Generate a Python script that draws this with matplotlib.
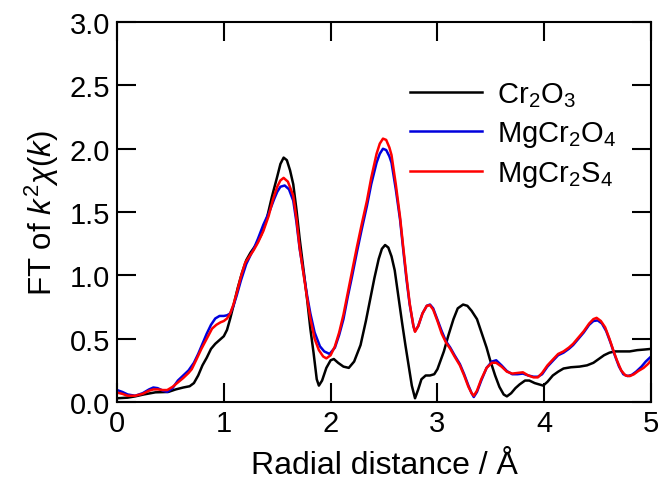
import matplotlib
matplotlib.use("Agg")
import matplotlib.pyplot as plt

plt.rcParams["font.family"] = ["Liberation Sans", "DejaVu Sans"]
plt.rcParams["mathtext.fontset"] = "custom"
plt.rcParams["mathtext.rm"] = "Liberation Sans"
plt.rcParams["mathtext.it"] = "Liberation Sans:italic"

# Cr2O3 (black)
r_cr2o3 = [0.00, 0.10, 0.17, 0.25, 0.36, 0.48, 0.55, 0.62, 0.68, 0.72, 0.76, 0.80,
           0.84, 0.88, 0.92, 0.96, 1.00, 1.03, 1.06, 1.09, 1.13, 1.17, 1.21, 1.25,
           1.30, 1.35, 1.40, 1.45, 1.50, 1.53, 1.56, 1.59, 1.62, 1.65, 1.68, 1.71,
           1.75, 1.78, 1.81, 1.84, 1.87, 1.89, 1.92, 1.96, 2.00, 2.03, 2.07, 2.12,
           2.17, 2.22, 2.28, 2.33, 2.37, 2.41, 2.45, 2.48, 2.51, 2.54, 2.57, 2.60,
           2.63, 2.67, 2.70, 2.73, 2.76, 2.79, 2.82, 2.85, 2.89, 2.93, 2.97, 3.00,
           3.03, 3.06, 3.10, 3.15, 3.19, 3.24, 3.28, 3.32, 3.37, 3.42, 3.46, 3.49,
           3.54, 3.58, 3.62, 3.65, 3.69, 3.73, 3.77, 3.82, 3.86, 3.91, 3.95, 3.99,
           4.03, 4.08, 4.13, 4.18, 4.25, 4.33, 4.40, 4.46, 4.51, 4.56, 4.61, 4.66,
           4.73, 4.80, 4.87, 4.94, 5.00]
ft_cr2o3 = [0.03, 0.035, 0.045, 0.06, 0.077, 0.08, 0.10, 0.115, 0.125, 0.15, 0.21, 0.29,
            0.35, 0.42, 0.46, 0.49, 0.52, 0.57, 0.66, 0.76, 0.90, 1.02, 1.12, 1.18,
            1.24, 1.32, 1.44, 1.62, 1.78, 1.88, 1.93, 1.91, 1.83, 1.72, 1.52, 1.29,
            1.02, 0.81, 0.58, 0.39, 0.18, 0.13, 0.17, 0.27, 0.33, 0.34, 0.31, 0.28,
            0.27, 0.32, 0.45, 0.64, 0.81, 0.98, 1.13, 1.21, 1.24, 1.22, 1.15, 1.04,
            0.86, 0.62, 0.45, 0.29, 0.13, 0.03, 0.10, 0.18, 0.21, 0.21, 0.22, 0.26,
            0.33, 0.40, 0.52, 0.655, 0.74, 0.77, 0.76, 0.72, 0.655, 0.53, 0.43, 0.34,
            0.21, 0.12, 0.06, 0.045, 0.07, 0.11, 0.14, 0.17, 0.17, 0.15, 0.14, 0.13,
            0.16, 0.21, 0.24, 0.265, 0.275, 0.28, 0.29, 0.31, 0.34, 0.37, 0.39, 0.40,
            0.40, 0.40, 0.41, 0.415, 0.42]

# MgCr2O4 (blue)
r_mgcr2o4 = [0.00, 0.05, 0.10, 0.17, 0.24, 0.30, 0.34, 0.38, 0.43, 0.47, 0.52, 0.57,
             0.62, 0.67, 0.72, 0.76, 0.80, 0.84, 0.88, 0.92, 0.96, 1.00, 1.03, 1.06,
             1.09, 1.12, 1.16, 1.21, 1.25, 1.28, 1.32, 1.37, 1.43, 1.47, 1.50, 1.53,
             1.57, 1.61, 1.65, 1.68, 1.71, 1.75, 1.78, 1.81, 1.85, 1.90, 1.94, 1.99,
             2.04, 2.08, 2.12, 2.16, 2.20, 2.245, 2.29, 2.34, 2.38, 2.43, 2.46, 2.49,
             2.52, 2.55, 2.57, 2.61, 2.65, 2.68, 2.71, 2.74, 2.775, 2.79, 2.82, 2.86,
             2.90, 2.93, 2.96, 3.00, 3.04, 3.08, 3.12, 3.16, 3.21, 3.25, 3.29, 3.32,
             3.34, 3.37, 3.41, 3.46, 3.51, 3.55, 3.60, 3.65, 3.70, 3.75, 3.80, 3.85,
             3.90, 3.94, 3.98, 4.03, 4.085, 4.13, 4.18, 4.23, 4.27, 4.32, 4.37, 4.42,
             4.46, 4.50, 4.54, 4.58, 4.62, 4.66, 4.70, 4.74, 4.78, 4.82, 4.86, 4.91,
             4.95, 5.00]
ft_mgcr2o4 = [0.095, 0.08, 0.06, 0.05, 0.07, 0.10, 0.115, 0.11, 0.09, 0.08, 0.11, 0.17,
              0.21, 0.25, 0.31, 0.38, 0.46, 0.54, 0.61, 0.66, 0.68, 0.68, 0.685, 0.70,
              0.76, 0.84, 0.96, 1.09, 1.16, 1.21, 1.29, 1.40, 1.51, 1.60, 1.66, 1.70,
              1.71, 1.68, 1.59, 1.42, 1.21, 1.00, 0.84, 0.70, 0.55, 0.44, 0.40, 0.38,
              0.43, 0.53, 0.655, 0.83, 0.99, 1.18, 1.36, 1.55, 1.72, 1.89, 1.96, 2.00,
              1.99, 1.94, 1.89, 1.68, 1.44, 1.20, 0.97, 0.77, 0.60, 0.56, 0.60, 0.70,
              0.76, 0.77, 0.74, 0.65, 0.56, 0.48, 0.43, 0.37, 0.30, 0.22, 0.13, 0.07,
              0.04, 0.08, 0.17, 0.27, 0.32, 0.33, 0.29, 0.245, 0.22, 0.22, 0.225, 0.21,
              0.20, 0.20, 0.22, 0.28, 0.33, 0.37, 0.39, 0.42, 0.45, 0.50, 0.55, 0.61,
              0.64, 0.645, 0.62, 0.56, 0.47, 0.37, 0.28, 0.22, 0.205, 0.215, 0.24, 0.28,
              0.32, 0.36]

# MgCr2S4 (red)
r_mgcr2s4 = [0.00, 0.05, 0.10, 0.17, 0.24, 0.30, 0.34, 0.38, 0.43, 0.47, 0.52, 0.57,
             0.62, 0.67, 0.70, 0.74, 0.79, 0.84, 0.89, 0.93, 0.97, 1.00, 1.03, 1.06,
             1.09, 1.12, 1.16, 1.20, 1.24, 1.28, 1.32, 1.37, 1.42, 1.46, 1.50, 1.53,
             1.56, 1.60, 1.65, 1.68, 1.71, 1.75, 1.78, 1.81, 1.85, 1.89, 1.93, 1.96,
             2.00, 2.04, 2.08, 2.12, 2.16, 2.20, 2.245, 2.29, 2.34, 2.38, 2.43, 2.46,
             2.49, 2.52, 2.55, 2.57, 2.61, 2.65, 2.68, 2.71, 2.74, 2.775, 2.79, 2.82,
             2.86, 2.90, 2.93, 2.96, 3.00, 3.04, 3.08, 3.12, 3.16, 3.21, 3.25, 3.29,
             3.32, 3.34, 3.37, 3.41, 3.46, 3.51, 3.55, 3.60, 3.65, 3.70, 3.75, 3.80,
             3.85, 3.90, 3.94, 3.98, 4.03, 4.085, 4.13, 4.18, 4.23, 4.27, 4.32, 4.37,
             4.42, 4.46, 4.49, 4.53, 4.57, 4.61, 4.65, 4.68, 4.72, 4.76, 4.80, 4.84,
             4.88, 4.93, 4.97, 5.00]
ft_mgcr2s4 = [0.075, 0.065, 0.05, 0.05, 0.065, 0.09, 0.10, 0.10, 0.095, 0.095, 0.12, 0.155,
              0.19, 0.23, 0.26, 0.33, 0.42, 0.50, 0.58, 0.61, 0.63, 0.64, 0.66, 0.70,
              0.77, 0.86, 0.99, 1.10, 1.15, 1.20, 1.26, 1.35, 1.47, 1.60, 1.70, 1.75,
              1.77, 1.74, 1.63, 1.45, 1.22, 0.99, 0.82, 0.66, 0.50, 0.41, 0.36, 0.345,
              0.37, 0.44, 0.55, 0.69, 0.86, 1.03, 1.22, 1.40, 1.59, 1.77, 1.96, 2.04,
              2.08, 2.07, 2.01, 1.95, 1.72, 1.46, 1.22, 0.99, 0.78, 0.60, 0.555, 0.60,
              0.70, 0.76, 0.765, 0.73, 0.64, 0.54, 0.47, 0.42, 0.36, 0.29, 0.21, 0.12,
              0.07, 0.05, 0.09, 0.18, 0.27, 0.31, 0.31, 0.28, 0.24, 0.225, 0.23, 0.235,
              0.21, 0.195, 0.195, 0.23, 0.29, 0.34, 0.38, 0.40, 0.43, 0.46, 0.51, 0.56,
              0.62, 0.655, 0.665, 0.64, 0.59, 0.50, 0.40, 0.33, 0.25, 0.21, 0.205, 0.22,
              0.245, 0.27, 0.30, 0.33]

x_ticks = [0, 1, 2, 3, 4, 5]
y_ticks = [0.0, 0.5, 1.0, 1.5, 2.0, 2.5, 3.0]

fig = plt.figure(figsize=(6.61, 4.81), dpi=100)
ax = fig.add_axes([0.177, 0.162, 0.808, 0.790])

ax.plot(r_cr2o3, ft_cr2o3, color="black", lw=1.8, label="Cr$_2$O$_3$")
ax.plot(r_mgcr2o4, ft_mgcr2o4, color="#0000dd", lw=1.8, label="MgCr$_2$O$_4$")
ax.plot(r_mgcr2s4, ft_mgcr2s4, color="#ff0000", lw=1.8, label="MgCr$_2$S$_4$")

ax.set_xlim(0, 5)
ax.set_ylim(0, 3)
ax.set_xticks(x_ticks)
ax.set_yticks(y_ticks)
ax.set_xticklabels([str(t) for t in x_ticks])
ax.set_yticklabels([f"{t:.1f}" for t in y_ticks])
ax.tick_params(direction="in", length=14, width=1.5, labelsize=21,
               top=True, right=True, pad=5)
for sp in ax.spines.values():
    sp.set_linewidth(1.5)

ax.set_xlabel("Radial distance / Å", fontsize=23, labelpad=9)
ax.set_ylabel("FT of $k^2\\chi(k)$", fontsize=22.5, labelpad=6)

ax.legend(loc="upper left", bbox_to_anchor=(0.549, 0.848), frameon=False,
          fontsize=21, handlelength=2.47, handletextpad=0.5,
          labelspacing=0.35, borderpad=0, borderaxespad=0)

fig.savefig("out.png", dpi=100, facecolor="white")
